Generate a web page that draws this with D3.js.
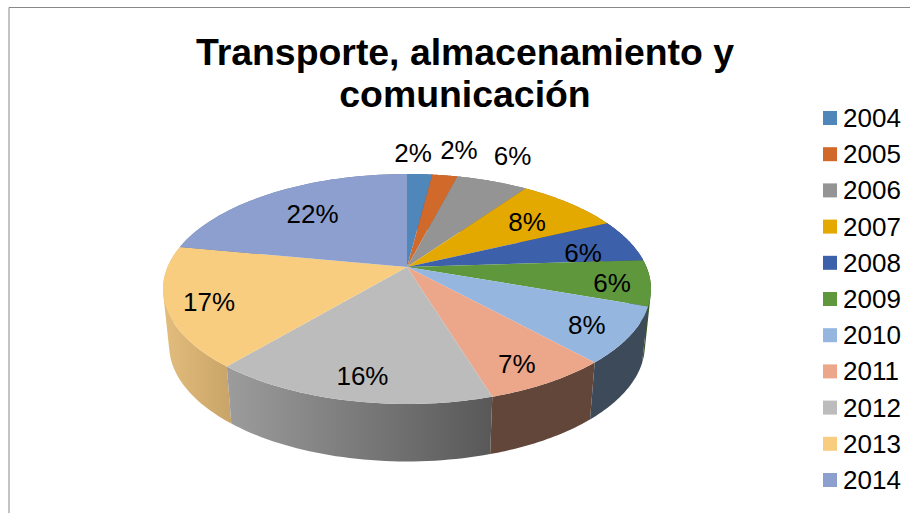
<!DOCTYPE html>
<html><head><meta charset="utf-8">
<script src="https://cdn.jsdelivr.net/npm/d3@7"></script>
<style>html,body{margin:0;padding:0;background:#fff}svg{display:block}text{font-family:"Liberation Sans",Arial,sans-serif;fill:#000}</style>
</head><body><svg id="c" width="910" height="513"></svg>
<script>
const titleLines = ["Transporte, almacenamiento y", "comunicación"];
const years = ["2004","2005","2006","2007","2008","2009","2010","2011","2012","2013","2014"];
const values = [2,2,5.7,8.3,6,6.4,7.85,7.05,15.8,16.9,22];
const labels = ["2%","2%","6%","8%","6%","6%","8%","7%","16%","17%","22%"];
const colors = ["#4f87ba","#d0692a","#949494","#e3a900","#3c60a9","#5f973c","#95b6df","#eca68a","#bcbcbc","#f9cd80","#8c9fce"];
const wallLeft = ["#3b6488","#99501f","#6e6e6e","#a67c00","#2c4679","#2f4f20","#3d4a5a","#62463a","#9c9c9c","#e3bd7d","#6a7a9e"];
const wallRight = ["#3b6488","#99501f","#6e6e6e","#a67c00","#2c4679","#3f5a2a","#3d4a5a","#62463a","#585858","#c9a468","#6a7a9e"];
const labelRadius = [1.28,1.351,1.354,.70,.764,.845,.832,.845,.842,.835,.68];
const labelShift = [-2.2,.8,-.9,1.1,4.7,1.6,1.3,1.9,-.8,-1.4,0];

const svg = d3.select("#c");
const k = 0.191, cx = 407;
const project = (theta, r, top) => {
  const x = r*Math.sin(theta), y = r*Math.cos(theta), d = 1+k*y;
  return top ? [cx+239.5*x/d, 267-110.8*y/d] : [cx+0.975*239.5*x/d, 323-112*y/d];
};
const arcs = d3.pie().sort(null)(values);
const line = d3.line();
const sample = (a,b,r,top) => d3.range(0,41).map(i=>project(a+(b-a)*i/40,r,top));

// frame
svg.append("path").attr("d","M9,513V7.5H910").attr("fill","none").attr("stroke","#888").attr("stroke-width",1);

// defs
const defs = svg.append("defs");
years.forEach((y,i)=>{
  const g = defs.append("linearGradient").attr("id","w"+i);
  g.append("stop").attr("offset",0).attr("stop-color",wallLeft[i]);
  g.append("stop").attr("offset",1).attr("stop-color",wallRight[i]);
});

// walls, back to front; each wall is a run of same-wound quads so the fold at the silhouette stays filled
const wallPath = a => {
  const t = sample(a.startAngle,a.endAngle,1,true), b = sample(a.startAngle,a.endAngle,1,false);
  return d3.range(t.length-1).map(j=>{
    const q=[t[j],t[j+1],b[j+1],b[j]];
    if (d3.polygonArea(q)<0) q.reverse();
    return line(q)+"Z";
  }).join("");
};
const order = arcs.map((a,i)=>i).sort((p,q)=>Math.cos((arcs[q].startAngle+arcs[q].endAngle)/2)-Math.cos((arcs[p].startAngle+arcs[p].endAngle)/2));
svg.append("g").selectAll("path").data(order).join("path")
  .attr("d",i=>wallPath(arcs[i]))
  .attr("fill",i=>`url(#w${i})`);

// top faces
svg.append("g").selectAll("path").data(arcs).join("path")
  .attr("d",a=>line([project(0,0,true)].concat(sample(a.startAngle,a.endAngle,1,true)))+"Z")
  .attr("fill",(a,i)=>colors[i]);

// labels
svg.append("g").selectAll("text").data(arcs).join("text")
  .attr("transform",(a,i)=>{
    const p=project((a.startAngle+a.endAngle)/2+labelShift[i]*Math.PI/180,labelRadius[i],true);
    return `translate(${p[0]},${p[1]})`;
  })
  .attr("text-anchor","middle").attr("dominant-baseline","central")
  .attr("font-size",26).text((a,i)=>labels[i]);

// title
svg.append("g").selectAll("text").data(titleLines).join("text")
  .attr("x",465).attr("y",(d,i)=>65+i*41.5)
  .attr("text-anchor","middle").attr("font-size",37.4).attr("font-weight","bold").text(d=>d);

// legend
const ly = d3.scalePoint().domain(years).range([118,480]);
const lg = svg.append("g").selectAll("g").data(years).join("g").attr("transform",d=>`translate(823,${ly(d)})`);
lg.append("rect").attr("x",0).attr("y",-7).attr("width",14).attr("height",14).attr("fill",(d,i)=>colors[i]);
lg.append("text").attr("x",20).attr("y",0).attr("dominant-baseline","central").attr("font-size",26).text(d=>d);
</script></body></html>
